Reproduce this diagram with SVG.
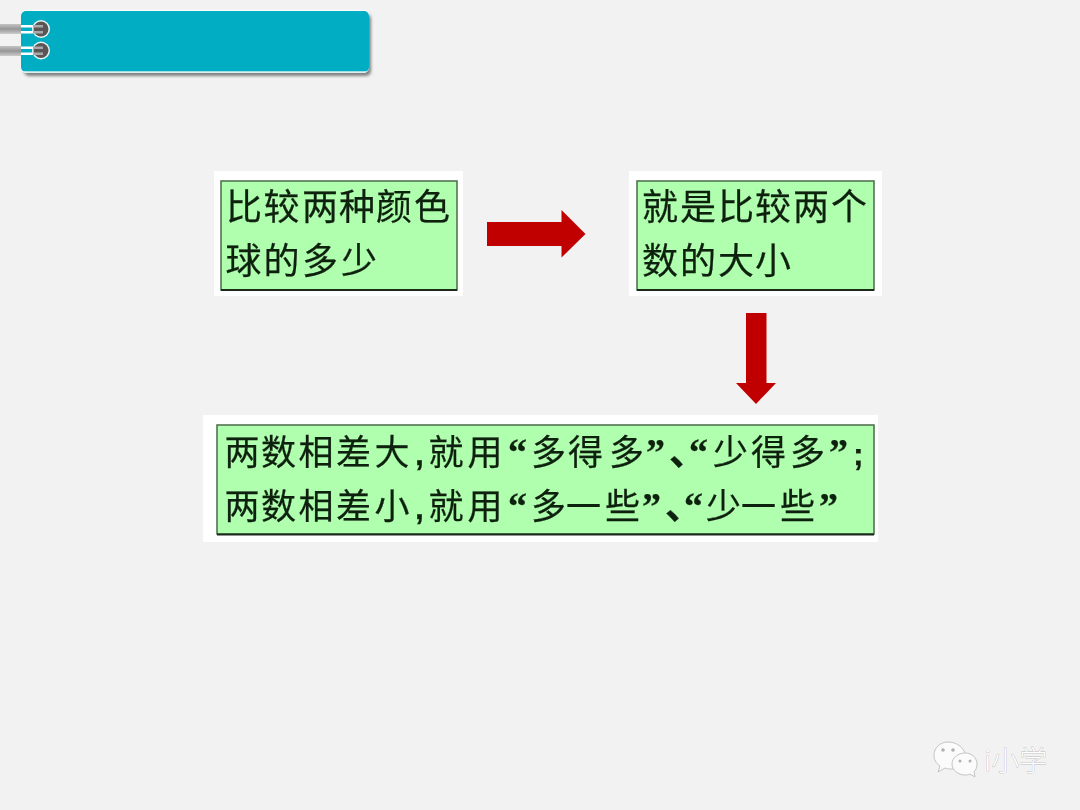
<svg xmlns="http://www.w3.org/2000/svg" width="1080" height="810" viewBox="0 0 1080 810">
<style>
.w{fill:#fff}
.g{fill:#afffaf;stroke:#4a6a4a;stroke-width:1.5}
.b{fill:none;stroke:#1c2a1c;stroke-width:2}
.t{font-family:"Noto Sans CJK SC","Noto Sans",sans-serif;fill:#102010;stroke:#102010;stroke-width:.25;filter:url(#soft)}
.t1{font-size:36px}
.t3{font-size:35px}
.q{font-family:"Liberation Serif","Noto Sans CJK SC",serif;font-weight:bold;font-size:38px}
.p{font-family:"Liberation Sans",sans-serif;font-weight:bold;font-size:32px}
.arrow{fill:#c00000}
.wm{font-family:"Noto Sans CJK SC","Noto Sans",sans-serif;font-size:28px;font-weight:300;fill:#fff;stroke:#9a9a9a;stroke-width:.5;paint-order:stroke}
.bub{fill:#fbfbfb;stroke:#c4c4c4;stroke-width:1}
.eye{fill:#b0b0b0}
</style>
<defs>
<filter id="soft" x="-5%" y="-5%" width="110%" height="110%"><feGaussianBlur stdDeviation="0.35"/></filter>
<filter id="shadow" x="-5%" y="-20%" width="110%" height="140%"><feGaussianBlur stdDeviation="1.500"/></filter>
<linearGradient id="wire" x1="0" y1="0" x2="0" y2="1"><stop offset="0" stop-color="#c4c4c4"/><stop offset=".5" stop-color="#969696"/><stop offset="1" stop-color="#cccccc"/></linearGradient>
</defs>
<rect width="1080" height="810" fill="#f2f2f2"/>
<g id="banner">
<rect x="24" y="14" width="347" height="62" rx="5" fill="#808080" filter="url(#shadow)"/>
<rect x="21" y="10" width="348" height="63" rx="5" fill="#fff" opacity=".8"/>
<rect x="21" y="11" width="348" height="61" rx="5" fill="#01adc2"/>
<path d="M24 72H366" stroke="#d8f2f5" stroke-width="1.5" fill="none"/>
<circle cx="41" cy="29" r="9" fill="#e8f4f6"/>
<circle cx="41" cy="29" r="7.5" fill="#5a5656"/>
<circle cx="41" cy="50.500" r="9" fill="#e8f4f6"/>
<circle cx="41" cy="50.500" r="7.5" fill="#5a5656"/>
<rect x="0" y="24" width="21" height="10" fill="url(#wire)"/>
<rect x="0" y="46" width="21" height="10" fill="url(#wire)"/>
<rect x="21" y="25" width="12" height="2.500" fill="#fff"/>
<rect x="21" y="31" width="12" height="2.500" fill="#fff"/>
<rect x="21" y="46.500" width="12" height="2.500" fill="#fff"/>
<rect x="21" y="52.500" width="12" height="2.500" fill="#fff"/>
<rect x="33" y="25" width="10" height="2.500" fill="#a9a9a9"/>
<rect x="33" y="31" width="10" height="2.500" fill="#a9a9a9"/>
<rect x="33" y="46.500" width="10" height="2.500" fill="#a9a9a9"/>
<rect x="33" y="52.500" width="10" height="2.500" fill="#a9a9a9"/>
</g>
<g id="node-colors">
<rect class="w" x="214" y="171" width="249" height="125"/>
<rect class="g" x="221" y="181" width="236" height="109"/>
<path class="b" d="M221 290H457"/>
<text class="t t1" x="226 263.500 302 339 376 414" y="220">比较两种颜色</text>
<text class="t t1" x="225.500 263.500 302 341" y="274">球的多少</text>
</g>
<g id="node-numbers">
<rect class="w" x="629" y="171" width="253" height="125"/>
<rect class="g" x="637" y="181" width="237" height="109"/>
<path class="b" d="M637 290H874"/>
<text class="t t1" x="642 680 718 755 793 831" y="220">就是比较两个</text>
<text class="t t1" x="642 680 718 755" y="274">数的大小</text>
</g>
<g id="node-rule">
<rect class="w" x="203" y="415" width="675" height="127"/>
<rect class="g" x="217" y="425" width="657" height="109"/>
<path class="b" d="M217 534.500H874"/>
<text class="t t3" y="465"><tspan x="224.500 261 298.500 336 374.500">两数相差大</tspan><tspan class="p" x="415">,</tspan><tspan x="428.500 467.500">就用</tspan><tspan class="q" x="508">“</tspan><tspan x="531 568 609">多得多</tspan><tspan class="q" x="646">”</tspan><tspan class="q" x="669 689">、“</tspan><tspan x="713 751 790">少得多</tspan><tspan class="q" x="829">”</tspan><tspan class="p" x="853">;</tspan></text>
<text class="t t3" y="519"><tspan x="224.500 261 298.500 336 374.500">两数相差小</tspan><tspan class="p" x="415">,</tspan><tspan x="428.500 467.500">就用</tspan><tspan class="q" x="508">“</tspan><tspan x="531 566 605">多一些</tspan><tspan class="q" x="642">”</tspan><tspan class="q" x="665 684">、“</tspan><tspan x="706 741 780">少一些</tspan><tspan class="q" x="819">”</tspan></text>
</g>
<g id="connectors">
<polygon class="arrow" points="487,222 561.500,222 561.500,210 585.500,234 561.500,257.500 561.500,246 487,246"/>
<polygon class="arrow" points="746,313 766.500,313 766.500,383 776,383 756,404 736,383 746,383"/>
</g>
<g id="watermark">
<path class="bub" d="M948 742c-8 0-14 6-14 13 0 5 2 8 6 11l-2 6 7-4c2 1 5 1 8 1l10-2c3-2 4-6 3-10-1-9-9-15-18-15z"/>
<circle class="eye" cx="943" cy="750" r="1.800"/><circle class="eye" cx="953" cy="750" r="1.800"/>
<path class="bub" d="M965 753c-7 0-13 5-13 11s6 11 13 11c2 0 3 0 5-1l5 3-1-5c2-2 3-5 3-8 0-6-5-11-12-11z"/>
<circle class="eye" cx="960" cy="761" r="1.500"/><circle class="eye" cx="970" cy="761" r="1.500"/>
<text class="wm" x="984" y="771">i小学</text>
</g>
</svg>
